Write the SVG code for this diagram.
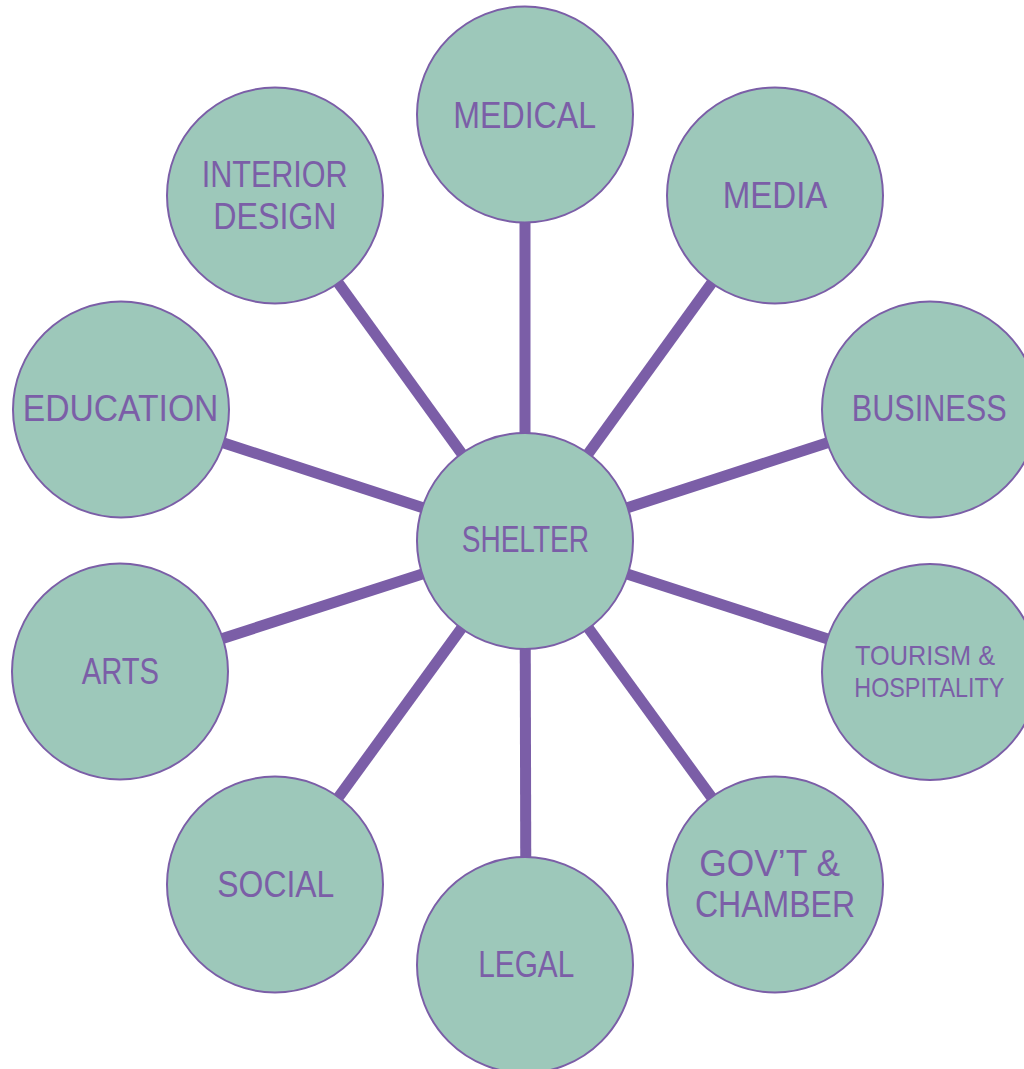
<svg xmlns="http://www.w3.org/2000/svg" width="1024" height="1069" viewBox="0 0 1024 1069">
<style>
.node circle{fill:#9DC8BA;stroke:#7B5EA7;stroke-width:2}
.node text{fill:#7B5EA7;font-family:"Liberation Sans",Arial,sans-serif;font-size:36px}
.node text.sm{font-size:28px}
.conn line{stroke:#7B5EA7;stroke-width:11}
</style>
<rect width="1024" height="1069" fill="#FFFFFF"/>
<g id="connectors" class="conn">
<line x1="525" y1="541" x2="525" y2="114.5"/>
<line x1="525" y1="541" x2="775" y2="195.5"/>
<line x1="525" y1="541" x2="930" y2="409.5"/>
<line x1="525" y1="541" x2="930" y2="672"/>
<line x1="525" y1="541" x2="775" y2="884.5"/>
<line x1="525" y1="541" x2="526" y2="965"/>
<line x1="525" y1="541" x2="275" y2="884.5"/>
<line x1="525" y1="541" x2="120" y2="671.5"/>
<line x1="525" y1="541" x2="121" y2="409.5"/>
<line x1="525" y1="541" x2="275" y2="195.5"/>
</g>
<g id="shelter" class="node"><circle cx="525" cy="541" r="108"/><text x="461.7" y="552" textLength="127.3" lengthAdjust="spacingAndGlyphs">SHELTER</text></g>
<g id="medical" class="node"><circle cx="525" cy="114.5" r="108"/><text x="453.3" y="127.7" textLength="142.7" lengthAdjust="spacingAndGlyphs">MEDICAL</text></g>
<g id="media" class="node"><circle cx="775" cy="195.5" r="108"/><text x="722.7" y="208.3" textLength="104.7" lengthAdjust="spacingAndGlyphs">MEDIA</text></g>
<g id="business" class="node"><circle cx="930" cy="409.5" r="108"/><text x="851.7" y="420.7" textLength="155" lengthAdjust="spacingAndGlyphs">BUSINESS</text></g>
<g id="tourism" class="node"><circle cx="930" cy="672" r="108"/><text class="sm" x="855" y="665" textLength="140" lengthAdjust="spacingAndGlyphs">TOURISM &amp;</text><text class="sm" x="854.3" y="696.7" textLength="150" lengthAdjust="spacingAndGlyphs">HOSPITALITY</text></g>
<g id="govt" class="node"><circle cx="775" cy="884.5" r="108"/><text x="699.3" y="876" textLength="140.7" lengthAdjust="spacingAndGlyphs">GOV’T &amp;</text><text x="695" y="916.7" textLength="160" lengthAdjust="spacingAndGlyphs">CHAMBER</text></g>
<g id="legal" class="node"><circle cx="525" cy="965" r="108"/><text x="478.3" y="977" textLength="96" lengthAdjust="spacingAndGlyphs">LEGAL</text></g>
<g id="social" class="node"><circle cx="275" cy="884.5" r="108"/><text x="217.3" y="896.7" textLength="117" lengthAdjust="spacingAndGlyphs">SOCIAL</text></g>
<g id="arts" class="node"><circle cx="120" cy="671.5" r="108"/><text x="81.7" y="684" textLength="77.3" lengthAdjust="spacingAndGlyphs">ARTS</text></g>
<g id="education" class="node"><circle cx="121" cy="409.5" r="108"/><text x="22.7" y="421" textLength="195.7" lengthAdjust="spacingAndGlyphs">EDUCATION</text></g>
<g id="interior" class="node"><circle cx="275" cy="195.5" r="108"/><text x="201.7" y="187.3" textLength="146" lengthAdjust="spacingAndGlyphs">INTERIOR</text><text x="213.3" y="229" textLength="123.3" lengthAdjust="spacingAndGlyphs">DESIGN</text></g>
</svg>
